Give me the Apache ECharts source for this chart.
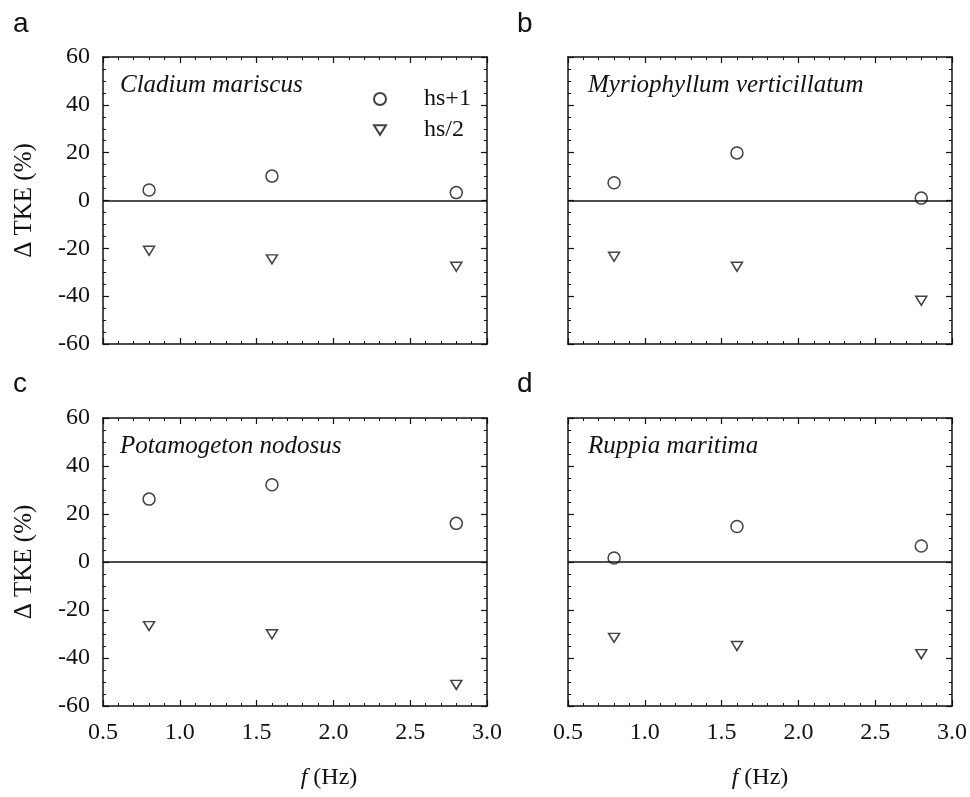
<!DOCTYPE html>
<html>
<head>
<meta charset="utf-8">
<title>ΔTKE vs frequency</title>
<script src="https://cdn.jsdelivr.net/npm/echarts@6/dist/echarts.min.js"></script>
<style>
  html, body { margin: 0; padding: 0; background: #fff; }
  #chart { width: 970px; height: 797px; }
</style>
</head>
<body>
<div id="chart"></div>
<script>
// Wave frequency (Hz) at which each species was tested
const freq = [0.8, 1.6, 2.8];

// Change in TKE (%) for each species and canopy height treatment
const cladiumPlus1 = [4.4, 10.2, 3.3];
const cladiumHalf = [-21.0, -24.6, -27.7];
const myriophyllumPlus1 = [7.4, 19.9, 1.0];
const myriophyllumHalf = [-23.5, -27.7, -41.9];
const potamogetonPlus1 = [26.2, 32.2, 16.1];
const potamogetonHalf = [-26.7, -30.1, -51.2];
const ruppiaPlus1 = [1.7, 14.8, 6.7];
const ruppiaHalf = [-31.6, -35.0, -38.4];

const speciesNames = ['Cladium mariscus', 'Myriophyllum verticillatum', 'Potamogeton nodosus', 'Ruppia maritima'];
const panelLetters = ['a', 'b', 'c', 'd'];
const seriesNames = ['hs+1', 'hs/2'];
const xTicks = { min: 0.5, max: 3.0, step: 0.5 };
const yTicks = { min: -60, max: 60, step: 20 };

const plus1Sets = [cladiumPlus1, myriophyllumPlus1, potamogetonPlus1, ruppiaPlus1];
const halfSets = [cladiumHalf, myriophyllumHalf, potamogetonHalf, ruppiaHalf];

const SERIF = '"Liberation Serif", "Times New Roman", serif';
const INK = '#111';
const TRIANGLE = 'path://M0,0L10,0L5,8Z';

const grids = [
  { left: 103, top: 57, width: 384, height: 287 },
  { left: 568, top: 57, width: 384, height: 287 },
  { left: 103, top: 418, width: 384, height: 288 },
  { left: 568, top: 418, width: 384, height: 288 }
];

const lineStyle = { color: INK, width: 1.5 };

function zip(xs, ys) { return xs.map((x, i) => [x, ys[i]]); }

const xAxes = [], yAxes = [], series = [], titles = [];

grids.forEach((g, i) => {
  const bottomRow = i >= 2;
  const leftCol = i % 2 === 0;
  ['bottom', 'top'].forEach(pos => {
    const main = pos === 'bottom';
    xAxes.push({
      type: 'value', gridIndex: i, position: pos,
      min: xTicks.min, max: xTicks.max, interval: xTicks.step,
      axisLine: { show: true, onZero: false, lineStyle },
      axisTick: { show: true, inside: true, length: 6, lineStyle: { color: INK, width: 1.2 } },
      minorTick: { show: true, splitNumber: 5, length: 3, lineStyle: { color: INK, width: 1 } },
      splitLine: { show: false },
      axisLabel: {
        show: main && bottomRow, margin: 15,
        fontFamily: SERIF, fontSize: 24, color: INK,
        formatter: v => v.toFixed(1)
      },
      name: main && bottomRow ? '{i|f} (Hz)' : '',
      nameLocation: 'middle', nameGap: 60,
      nameTextStyle: {
        fontFamily: SERIF, fontSize: 24, color: INK,
        padding: leftCol ? [0, 0, 0, 68] : [0, 0, 0, 0],
        rich: { i: { fontFamily: SERIF, fontSize: 24, fontStyle: 'italic', color: INK } }
      }
    });
  });
  ['left', 'right'].forEach(pos => {
    const main = pos === 'left';
    yAxes.push({
      type: 'value', gridIndex: i, position: pos,
      min: yTicks.min, max: yTicks.max, interval: yTicks.step,
      axisLine: { show: true, onZero: false, lineStyle },
      axisTick: { show: true, inside: true, length: 6, lineStyle: { color: INK, width: 1.2 } },
      minorTick: { show: true, splitNumber: 4, length: 3, lineStyle: { color: INK, width: 1 } },
      splitLine: { show: false },
      axisLabel: { show: main && leftCol, margin: 13, fontFamily: SERIF, fontSize: 24, color: INK },
      name: main && leftCol ? 'Δ TKE (%)' : '',
      nameLocation: 'middle', nameGap: 66,
      nameTextStyle: { fontFamily: SERIF, fontSize: 25, color: INK }
    });
  });

  const xIdx = i * 2, yIdx = i * 2;
  series.push({
    name: seriesNames[0], type: 'scatter', xAxisIndex: xIdx, yAxisIndex: yIdx,
    data: zip(freq, plus1Sets[i]),
    symbol: 'circle', symbolSize: 12,
    itemStyle: { color: '#fff', borderColor: INK, borderWidth: 1.5 },
    markLine: {
      silent: true, symbol: ['none', 'none'], label: { show: false },
      lineStyle: { color: INK, width: 1.5, type: 'solid' },
      data: [{ yAxis: 0 }]
    },
    z: 3
  });
  series.push({
    name: seriesNames[1], type: 'scatter', xAxisIndex: xIdx, yAxisIndex: yIdx,
    data: zip(freq, halfSets[i]),
    symbol: TRIANGLE, symbolSize: [11, 9],
    itemStyle: { color: '#fff', borderColor: INK, borderWidth: 1.5 },
    z: 3
  });

  titles.push({
    text: panelLetters[i],
    left: leftCol ? 8 : 512,
    top: bottomRow ? 365 : 5,
    textStyle: { fontFamily: '"Liberation Sans", Arial, sans-serif', fontSize: 28, fontWeight: 'normal', color: INK }
  });
  titles.push({
    text: speciesNames[i],
    left: g.left + (leftCol ? 12 : 15),
    top: g.top + 11,
    textStyle: { fontFamily: SERIF, fontSize: 25, fontStyle: 'italic', fontWeight: 'normal', color: INK }
  });
});

const chart = echarts.init(document.getElementById('chart'), null, { renderer: 'canvas' });
chart.setOption({
  backgroundColor: '#fff',
  animation: false,
  title: titles,
  grid: grids,
  xAxis: xAxes,
  yAxis: yAxes,
  legend: {
    orient: 'vertical', left: 373, top: 87, padding: 0,
    itemWidth: 12, itemHeight: 12, itemGap: 7,
    data: seriesNames,
    textStyle: { fontFamily: SERIF, fontSize: 24, lineHeight: 20, color: INK, padding: [0, 0, 0, 33] },
    selectedMode: false
  },
  series: series
});
</script>
</body>
</html>
